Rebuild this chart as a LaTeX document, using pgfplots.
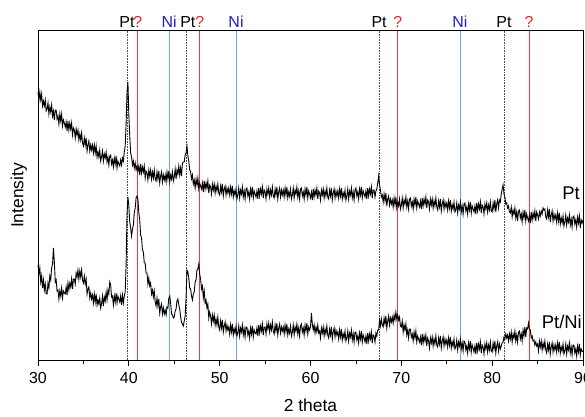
\documentclass[border=0pt]{standalone}
\usepackage{fontspec}
\setmainfont{Liberation Sans}
\usepackage{pgfplots}
\pgfplotsset{compat=1.18}

\definecolor{qred}{RGB}{220,45,45}
\definecolor{niblue}{RGB}{30,30,200}
\definecolor{niline}{RGB}{110,170,220}
\definecolor{ptline}{RGB}{80,80,80}

\begin{document}
\begin{tikzpicture}
\begin{axis}[
  name=ax,
  scale only axis, width=545bp, height=329bp,
  xmin=30, xmax=90, ymin=0, ymax=329,
  xtick={30,40,...,90}, minor xtick={35,45,...,85},
  ytick=\empty,
  xtick pos=bottom, xtick align=outside,
  major tick length=6bp, minor tick length=3.5bp,
  tick style={black, line width=0.8bp},
  axis line style={line width=1bp},
  ticklabel style={font=\fontsize{16}{18}\selectfont},
  xticklabel style={yshift=-3bp},
  /pgf/number format/assume math mode=true,
  xlabel={2 theta}, ylabel={Intensity},
  label style={font=\fontsize{17.5}{20}\selectfont},
  xlabel style={at={(axis description cs:0.5,-0.1368)}, anchor=center},
  ylabel style={at={(axis description cs:-0.0349,0.5)}, anchor=center},
  clip=false,
]
% reference lines
\addplot[color=ptline, densely dotted, line width=0.6bp] coordinates {(39.8,0) (39.8,329)};
\addplot[color=ptline, densely dotted, line width=0.6bp] coordinates {(46.35,0) (46.35,329)};
\addplot[color=ptline, densely dotted, line width=0.6bp] coordinates {(67.55,0) (67.55,329)};
\addplot[color=ptline, densely dotted, line width=0.6bp] coordinates {(81.3,0) (81.3,329)};
\addplot[color=red!80, line width=0.9bp] coordinates {(41.0,0) (41.0,329)};
\addplot[color=red!80, line width=0.9bp] coordinates {(47.8,0) (47.8,329)};
\addplot[color=red!80, line width=0.9bp] coordinates {(69.6,0) (69.6,329)};
\addplot[color=red!80, line width=0.9bp] coordinates {(84.05,0) (84.05,329)};
\addplot[color=niline, line width=0.8bp] coordinates {(44.45,0) (44.45,329)};
\addplot[color=niline, line width=0.8bp] coordinates {(51.8,0) (51.8,329)};
\addplot[color=niline, line width=0.8bp] coordinates {(76.45,0) (76.45,329)};

% Pt
\addplot[black, line width=0.9bp] coordinates {
(30.0,268) (30.1,260) (30.2,268) (30.3,260) (30.4,266) (30.5,254) (30.6,259) (30.7,254) (30.8,260) (30.9,249)
(31.0,251) (31.1,257) (31.2,246) (31.3,253) (31.4,248) (31.5,255) (31.6,244) (31.7,249) (31.8,240) (31.9,250)
(32.0,250) (32.1,241) (32.2,244) (32.3,236) (32.4,246) (32.5,239) (32.6,246) (32.7,234) (32.8,240) (32.9,237)
(33.0,233) (33.1,238) (33.2,229) (33.3,239) (33.4,230) (33.5,237) (33.6,231) (33.7,237) (33.8,225) (33.9,232)
(34.0,230) (34.1,222) (34.2,231) (34.3,225) (34.4,230) (34.5,220) (34.6,226) (34.7,220) (34.8,227) (34.9,217)
(35.0,214) (35.1,222) (35.2,215) (35.3,222) (35.4,209) (35.5,215) (35.6,219) (35.7,209) (35.8,215) (35.9,210)
(36.0,215) (36.1,207) (36.2,215) (36.3,207) (36.4,214) (36.5,203) (36.6,208) (36.7,203) (36.8,210) (36.9,199)
(37.0,203) (37.1,209) (37.2,199) (37.3,206) (37.4,202) (37.5,208) (37.6,198) (37.7,203) (37.8,195) (37.9,204)
(38.0,205) (38.1,196) (38.2,200) (38.3,193) (38.4,202) (38.5,196) (38.6,204) (38.7,192) (38.8,199) (38.9,196)
(39.0,194) (39.1,200) (39.2,195) (39.3,202) (39.4,199) (39.5,208) (39.6,214) (39.7,236) (39.8,268) (39.9,278)
(40.0,245) (40.1,224) (40.2,207) (40.3,203) (40.4,195) (40.5,199) (40.6,192) (40.7,197) (40.8,190) (40.9,194)
(41.0,189) (41.1,194) (41.2,185) (41.3,196) (41.4,187) (41.5,193) (41.6,188) (41.7,194) (41.8,182) (41.9,189)
(42.0,187) (42.1,180) (42.2,190) (42.3,184) (42.4,190) (42.5,181) (42.6,188) (42.7,182) (42.8,190) (42.9,181)
(43.0,179) (43.1,188) (43.2,181) (43.3,189) (43.4,177) (43.5,184) (43.6,188) (43.7,178) (43.8,185) (43.9,180)
(44.0,185) (44.1,178) (44.2,188) (44.3,181) (44.4,189) (44.5,178) (44.6,185) (44.7,181) (44.8,188) (44.9,179)
(45.0,183) (45.1,191) (45.2,181) (45.3,190) (45.4,186) (45.5,194) (45.6,185) (45.7,192) (45.8,184) (45.9,197)
(46.0,198) (46.1,198) (46.2,205) (46.3,207) (46.4,214) (46.5,204) (46.6,199) (46.7,190) (46.8,188) (46.9,181)
(47.0,185) (47.1,176) (47.2,180) (47.3,172) (47.4,181) (47.5,175) (47.6,182) (47.7,171) (47.8,177) (47.9,174)
(48.0,171) (48.1,177) (48.2,168) (48.3,179) (48.4,171) (48.5,177) (48.6,172) (48.7,179) (48.8,167) (48.9,175)
(49.0,173) (49.1,166) (49.2,176) (49.3,170) (49.4,176) (49.5,167) (49.6,174) (49.7,169) (49.8,176) (49.9,167)
(50.0,165) (50.1,174) (50.2,168) (50.3,176) (50.4,164) (50.5,171) (50.6,174) (50.7,165) (50.8,172) (50.9,167)
(51.0,172) (51.1,165) (51.2,173) (51.3,166) (51.4,174) (51.5,163) (51.6,169) (51.7,165) (51.8,171) (51.9,161)
(52.0,165) (52.1,172) (52.2,162) (52.3,170) (52.4,166) (52.5,173) (52.6,163) (52.7,169) (52.8,161) (52.9,171)
(53.0,172) (53.1,164) (53.2,168) (53.3,161) (53.4,171) (53.5,165) (53.6,173) (53.7,162) (53.8,169) (53.9,166)
(54.0,163) (54.1,169) (54.2,161) (54.3,172) (54.4,164) (54.5,171) (54.6,166) (54.7,173) (54.8,162) (54.9,170)
(55.0,168) (55.1,161) (55.2,171) (55.3,166) (55.4,172) (55.5,163) (55.6,170) (55.7,165) (55.8,173) (55.9,164)
(56.0,162) (56.1,171) (56.2,165) (56.3,173) (56.4,161) (56.5,168) (56.6,172) (56.7,163) (56.8,170) (56.9,165)
(57.0,170) (57.1,163) (57.2,172) (57.3,165) (57.4,173) (57.5,162) (57.6,168) (57.7,164) (57.8,171) (57.9,161)
(58.0,165) (58.1,172) (58.2,162) (58.3,170) (58.4,166) (58.5,173) (58.6,163) (58.7,169) (58.8,161) (58.9,171)
(59.0,172) (59.1,164) (59.2,168) (59.3,161) (59.4,171) (59.5,165) (59.6,173) (59.7,162) (59.8,169) (59.9,166)
(60.0,162) (60.1,168) (60.2,160) (60.3,171) (60.4,163) (60.5,170) (60.6,165) (60.7,172) (60.8,161) (60.9,169)
(61.0,167) (61.1,160) (61.2,170) (61.3,165) (61.4,171) (61.5,162) (61.6,169) (61.7,164) (61.8,172) (61.9,163)
(62.0,161) (62.1,170) (62.2,164) (62.3,172) (62.4,160) (62.5,167) (62.6,171) (62.7,162) (62.8,169) (62.9,164)
(63.0,169) (63.1,162) (63.2,171) (63.3,164) (63.4,172) (63.5,161) (63.6,167) (63.7,163) (63.8,170) (63.9,160)
(64.0,164) (64.1,171) (64.2,161) (64.3,169) (64.4,165) (64.5,172) (64.6,162) (64.7,168) (64.8,160) (64.9,170)
(65.0,172) (65.1,164) (65.2,168) (65.3,161) (65.4,171) (65.5,165) (65.6,173) (65.7,162) (65.8,169) (65.9,166)
(66.0,163) (66.1,169) (66.2,161) (66.3,172) (66.4,164) (66.5,171) (66.6,166) (66.7,173) (66.8,162) (66.9,170)
(67.0,170) (67.1,163) (67.2,169) (67.3,171) (67.4,177) (67.5,184) (67.6,175) (67.7,170) (67.8,163) (67.9,165)
(68.0,158) (68.1,166) (68.2,159) (68.3,167) (68.4,154) (68.5,161) (68.6,164) (68.7,155) (68.8,161) (68.9,156)
(69.0,160) (69.1,153) (69.2,162) (69.3,155) (69.4,163) (69.5,152) (69.6,158) (69.7,154) (69.8,161) (69.9,151)
(70.0,155) (70.1,162) (70.2,152) (70.3,160) (70.4,156) (70.5,163) (70.6,153) (70.7,159) (70.8,151) (70.9,161)
(71.0,162) (71.1,154) (71.2,158) (71.3,151) (71.4,161) (71.5,155) (71.6,163) (71.7,152) (71.8,159) (71.9,156)
(72.0,153) (72.1,159) (72.2,151) (72.3,162) (72.4,154) (72.5,161) (72.6,156) (72.7,163) (72.8,152) (72.9,160)
(73.0,158) (73.1,151) (73.2,161) (73.3,155) (73.4,161) (73.5,152) (73.6,159) (73.7,154) (73.8,162) (73.9,153)
(74.0,150) (74.1,159) (74.2,153) (74.3,161) (74.4,149) (74.5,156) (74.6,160) (74.7,151) (74.8,158) (74.9,153)
(75.0,157) (75.1,150) (75.2,159) (75.3,152) (75.4,160) (75.5,149) (75.6,155) (75.7,151) (75.8,158) (75.9,148)
(76.0,150) (76.1,157) (76.2,147) (76.3,155) (76.4,151) (76.5,158) (76.6,148) (76.7,154) (76.8,146) (76.9,156)
(77.0,157) (77.1,149) (77.2,153) (77.3,146) (77.4,156) (77.5,150) (77.6,158) (77.7,147) (77.8,154) (77.9,151)
(78.0,148) (78.1,154) (78.2,146) (78.3,157) (78.4,149) (78.5,156) (78.6,151) (78.7,158) (78.8,147) (78.9,155)
(79.0,153) (79.1,146) (79.2,156) (79.3,151) (79.4,157) (79.5,148) (79.6,155) (79.7,150) (79.8,158) (79.9,149)
(80.0,148) (80.1,157) (80.2,151) (80.3,160) (80.4,148) (80.5,156) (80.6,160) (80.7,152) (80.8,160) (80.9,158)
(81.0,166) (81.1,171) (81.2,175) (81.3,166) (81.4,163) (81.5,156) (81.6,157) (81.7,152) (81.8,154) (81.9,148)
(82.0,147) (82.1,153) (82.2,143) (82.3,150) (82.4,146) (82.5,152) (82.6,142) (82.7,148) (82.8,139) (82.9,149)
(83.0,150) (83.1,142) (83.2,146) (83.3,138) (83.4,148) (83.5,142) (83.6,150) (83.7,139) (83.8,146) (83.9,142)
(84.0,139) (84.1,145) (84.2,137) (84.3,148) (84.4,140) (84.5,147) (84.6,142) (84.7,149) (84.8,139) (84.9,148)
(85.0,145) (85.1,141) (85.2,148) (85.3,144) (85.4,149) (85.5,146) (85.6,152) (85.7,150) (85.8,151) (85.9,143)
(86.0,141) (86.1,150) (86.2,143) (86.3,151) (86.4,138) (86.5,145) (86.6,149) (86.7,139) (86.8,146) (86.9,141)
(87.0,145) (87.1,138) (87.2,147) (87.3,139) (87.4,147) (87.5,136) (87.6,142) (87.7,137) (87.8,144) (87.9,134)
(88.0,138) (88.1,145) (88.2,135) (88.3,142) (88.4,138) (88.5,145) (88.6,135) (88.7,141) (88.8,133) (88.9,143)
(89.0,144) (89.1,136) (89.2,140) (89.3,133) (89.4,143) (89.5,137) (89.6,144) (89.7,132) (89.8,140) (89.9,137)
(90.0,140)
};

% Pt/Ni
\addplot[black, line width=0.9bp] coordinates {
(30.0,95) (30.1,86) (30.2,92) (30.3,78) (30.4,84) (30.5,72) (30.6,80) (30.7,70) (30.8,76) (30.9,66)
(31.0,66) (31.1,77) (31.2,72) (31.3,84) (31.4,80) (31.5,92) (31.6,96) (31.7,112) (31.8,98) (31.9,78)
(32.0,80) (32.1,69) (32.2,70) (32.3,61) (32.4,69) (32.5,64) (32.6,72) (32.7,62) (32.8,69) (32.9,67)
(33.0,66) (33.1,73) (33.2,65) (33.3,77) (33.4,70) (33.5,77) (33.6,73) (33.7,81) (33.8,71) (33.9,81)
(34.0,81) (34.1,76) (34.2,87) (34.3,83) (34.4,90) (34.5,81) (34.6,89) (34.7,83) (34.8,90) (34.9,80)
(35.0,77) (35.1,84) (35.2,76) (35.3,81) (35.4,66) (35.5,71) (35.6,73) (35.7,62) (35.8,67) (35.9,61)
(36.0,65) (36.1,57) (36.2,66) (36.3,58) (36.4,66) (36.5,55) (36.6,60) (36.7,56) (36.8,62) (36.9,52)
(37.0,56) (37.1,64) (37.2,54) (37.3,63) (37.4,59) (37.5,68) (37.6,60) (37.7,70) (37.8,66) (37.9,78)
(38.0,75) (38.1,63) (38.2,64) (38.3,55) (38.4,64) (38.5,58) (38.6,67) (38.7,57) (38.8,64) (38.9,61)
(39.0,58) (39.1,64) (39.2,55) (39.3,65) (39.4,57) (39.5,64) (39.6,68) (39.7,95) (39.8,145) (39.9,163)
(40.0,154) (40.1,138) (40.2,132) (40.3,124) (40.4,131) (40.5,135) (40.6,147) (40.7,152) (40.8,162) (40.9,164)
(41.0,161) (41.1,147) (41.2,140) (41.3,125) (41.4,122) (41.5,110) (41.6,108) (41.7,97) (41.8,97) (41.9,87)
(42.0,87) (42.1,76) (42.2,82) (42.3,74) (42.4,77) (42.5,66) (42.6,70) (42.7,63) (42.8,69) (42.9,58)
(43.0,54) (43.1,62) (43.2,54) (43.3,61) (43.4,47) (43.5,53) (43.6,56) (43.7,46) (43.8,52) (43.9,46)
(44.0,50) (44.1,45) (44.2,53) (44.3,52) (44.4,62) (44.5,64) (44.6,57) (44.7,46) (44.8,45) (44.9,42)
(45.0,43) (45.1,49) (45.2,51) (45.3,59) (45.4,61) (45.5,55) (45.6,51) (45.7,43) (45.8,38) (45.9,36)
(46.0,34) (46.1,39) (46.2,44) (46.3,62) (46.4,90) (46.5,88) (46.6,82) (46.7,72) (46.8,71) (46.9,64)
(47.0,60) (47.1,66) (47.2,68) (47.3,78) (47.4,80) (47.5,90) (47.6,91) (47.7,96) (47.8,86) (47.9,81)
(48.0,71) (48.1,74) (48.2,62) (48.3,69) (48.4,57) (48.5,60) (48.6,52) (48.7,56) (48.8,42) (48.9,48)
(49.0,44) (49.1,36) (49.2,45) (49.3,39) (49.4,45) (49.5,35) (49.6,41) (49.7,35) (49.8,43) (49.9,33)
(50.0,30) (50.1,39) (50.2,32) (50.3,40) (50.4,28) (50.5,34) (50.6,38) (50.7,29) (50.8,35) (50.9,30)
(51.0,33) (51.1,26) (51.2,35) (51.3,28) (51.4,36) (51.5,25) (51.6,31) (51.7,27) (51.8,34) (51.9,24)
(52.0,27) (52.1,34) (52.2,24) (52.3,32) (52.4,28) (52.5,35) (52.6,25) (52.7,31) (52.8,23) (52.9,33)
(53.0,33) (53.1,25) (53.2,29) (53.3,22) (53.4,32) (53.5,26) (53.6,34) (53.7,23) (53.8,30) (53.9,27)
(54.0,26) (54.1,32) (54.2,24) (54.3,35) (54.4,27) (54.5,34) (54.6,29) (54.7,36) (54.8,25) (54.9,33)
(55.0,33) (55.1,26) (55.2,36) (55.3,31) (55.4,37) (55.5,28) (55.6,35) (55.7,30) (55.8,38) (55.9,29)
(56.0,26) (56.1,35) (56.2,29) (56.3,37) (56.4,25) (56.5,32) (56.6,36) (56.7,27) (56.8,33) (56.9,29)
(57.0,33) (57.1,26) (57.2,35) (57.3,28) (57.4,36) (57.5,25) (57.6,31) (57.7,27) (57.8,34) (57.9,24)
(58.0,28) (58.1,35) (58.2,25) (58.3,33) (58.4,29) (58.5,36) (58.6,26) (58.7,32) (58.8,24) (58.9,34)
(59.0,36) (59.1,28) (59.2,32) (59.3,25) (59.4,35) (59.5,29) (59.6,37) (59.7,26) (59.8,33) (59.9,30)
(60.0,33) (60.1,47) (60.2,36) (60.3,30) (60.4,35) (60.5,27) (60.6,33) (60.7,28) (60.8,35) (60.9,27)
(61.0,29) (61.1,22) (61.2,32) (61.3,27) (61.4,33) (61.5,24) (61.6,31) (61.7,26) (61.8,34) (61.9,25)
(62.0,22) (62.1,31) (62.2,25) (62.3,33) (62.4,21) (62.5,28) (62.6,32) (62.7,23) (62.8,30) (62.9,25)
(63.0,28) (63.1,21) (63.2,30) (63.3,23) (63.4,31) (63.5,20) (63.6,26) (63.7,22) (63.8,29) (63.9,19)
(64.0,22) (64.1,29) (64.2,19) (64.3,27) (64.4,23) (64.5,30) (64.6,20) (64.7,26) (64.8,18) (64.9,28)
(65.0,28) (65.1,20) (65.2,24) (65.3,17) (65.4,27) (65.5,21) (65.6,29) (65.7,18) (65.8,25) (65.9,22)
(66.0,18) (66.1,24) (66.2,16) (66.3,27) (66.4,19) (66.5,26) (66.6,21) (66.7,28) (66.8,17) (66.9,25)
(67.0,24) (67.1,18) (67.2,27) (67.3,24) (67.4,30) (67.5,30) (67.6,40) (67.7,34) (67.8,41) (67.9,35)
(68.0,33) (68.1,42) (68.2,36) (68.3,44) (68.4,32) (68.5,39) (68.6,44) (68.7,35) (68.8,42) (68.9,38)
(69.0,43) (69.1,37) (69.2,45) (69.3,40) (69.4,48) (69.5,41) (69.6,45) (69.7,40) (69.8,43) (69.9,34)
(70.0,33) (70.1,39) (70.2,28) (70.3,35) (70.4,30) (70.5,36) (70.6,25) (70.7,30) (70.8,22) (70.9,31)
(71.0,31) (71.1,23) (71.2,26) (71.3,19) (71.4,28) (71.5,22) (71.6,29) (71.7,18) (71.8,24) (71.9,21)
(72.0,18) (72.1,23) (72.2,15) (72.3,26) (72.4,17) (72.5,24) (72.6,19) (72.7,25) (72.8,14) (72.9,22)
(73.0,19) (73.1,12) (73.2,22) (73.3,17) (73.4,23) (73.5,14) (73.6,21) (73.7,16) (73.8,24) (73.9,15)
(74.0,13) (74.1,22) (74.2,16) (74.3,24) (74.4,12) (74.5,19) (74.6,23) (74.7,14) (74.8,21) (74.9,16)
(75.0,20) (75.1,13) (75.2,22) (75.3,15) (75.4,23) (75.5,12) (75.6,18) (75.7,14) (75.8,21) (75.9,11)
(76.0,13) (76.1,20) (76.2,10) (76.3,18) (76.4,14) (76.5,21) (76.6,11) (76.7,17) (76.8,9) (76.9,19)
(77.0,18) (77.1,10) (77.2,14) (77.3,7) (77.4,17) (77.5,11) (77.6,19) (77.7,8) (77.8,15) (77.9,12)
(78.0,8) (78.1,14) (78.2,6) (78.3,17) (78.4,9) (78.5,16) (78.6,11) (78.7,18) (78.8,7) (78.9,15)
(79.0,13) (79.1,6) (79.2,16) (79.3,11) (79.4,17) (79.5,8) (79.6,15) (79.7,10) (79.8,18) (79.9,9)
(80.0,8) (80.1,17) (80.2,11) (80.3,19) (80.4,7) (80.5,14) (80.6,18) (80.7,9) (80.8,16) (80.9,11)
(81.0,14) (81.1,17) (81.2,18) (81.3,23) (81.4,21) (81.5,26) (81.6,22) (81.7,25) (81.8,19) (81.9,26)
(82.0,21) (82.1,28) (82.2,18) (82.3,26) (82.4,22) (82.5,29) (82.6,19) (82.7,25) (82.8,18) (82.9,28)
(83.0,29) (83.1,21) (83.2,26) (83.3,19) (83.4,30) (83.5,24) (83.6,33) (83.7,23) (83.8,32) (83.9,31)
(84.0,37) (84.1,31) (84.2,30) (84.3,22) (84.4,24) (84.5,19) (84.6,20) (84.7,15) (84.8,18) (84.9,14)
(85.0,16) (85.1,9) (85.2,19) (85.3,13) (85.4,19) (85.5,10) (85.6,17) (85.7,12) (85.8,19) (85.9,10)
(86.0,7) (86.1,16) (86.2,10) (86.3,18) (86.4,6) (86.5,13) (86.6,17) (86.7,8) (86.8,15) (86.9,10)
(87.0,15) (87.1,8) (87.2,17) (87.3,10) (87.4,18) (87.5,7) (87.6,13) (87.7,9) (87.8,16) (87.9,6)
(88.0,9) (88.1,16) (88.2,6) (88.3,14) (88.4,10) (88.5,17) (88.6,7) (88.7,13) (88.8,5) (88.9,15)
(89.0,15) (89.1,7) (89.2,11) (89.3,4) (89.4,14) (89.5,8) (89.6,16) (89.7,5) (89.8,11) (89.9,9)
(90.0,8)
};

% phase labels above the frame
\begin{scope}[every node/.style={anchor=base, inner sep=0pt, font=\fontsize{16}{18}\selectfont}]
\node[black] at (axis cs:39.8,332) {Pt};
\node[qred] at (axis cs:41.0,332) {?};
\node[niblue] at (axis cs:44.45,332) {Ni};
\node[black] at (axis cs:46.5,332) {Pt};
\node[qred] at (axis cs:47.8,332) {?};
\node[niblue] at (axis cs:51.8,332) {Ni};
\node[black] at (axis cs:67.55,332) {Pt};
\node[qred] at (axis cs:69.6,332) {?};
\node[niblue] at (axis cs:76.45,332) {Ni};
\node[black] at (axis cs:81.3,332) {Pt};
\node[qred] at (axis cs:84.05,332) {?};
\end{scope}

% sample names
\node[anchor=east, inner sep=0pt, font=\fontsize{18.5}{20}\selectfont] at ([xshift=-3bp]axis cs:90,167) {Pt};
\node[anchor=east, inner sep=0pt, font=\fontsize{18.5}{20}\selectfont] at ([xshift=-1bp]axis cs:90,38) {Pt/Ni};
\end{axis}
\pgfresetboundingbox
\path[use as bounding box] ([shift={(-38bp,-56bp)}]ax.south west) rectangle ([shift={(2bp,31bp)}]ax.north east);
\end{tikzpicture}
\end{document}
